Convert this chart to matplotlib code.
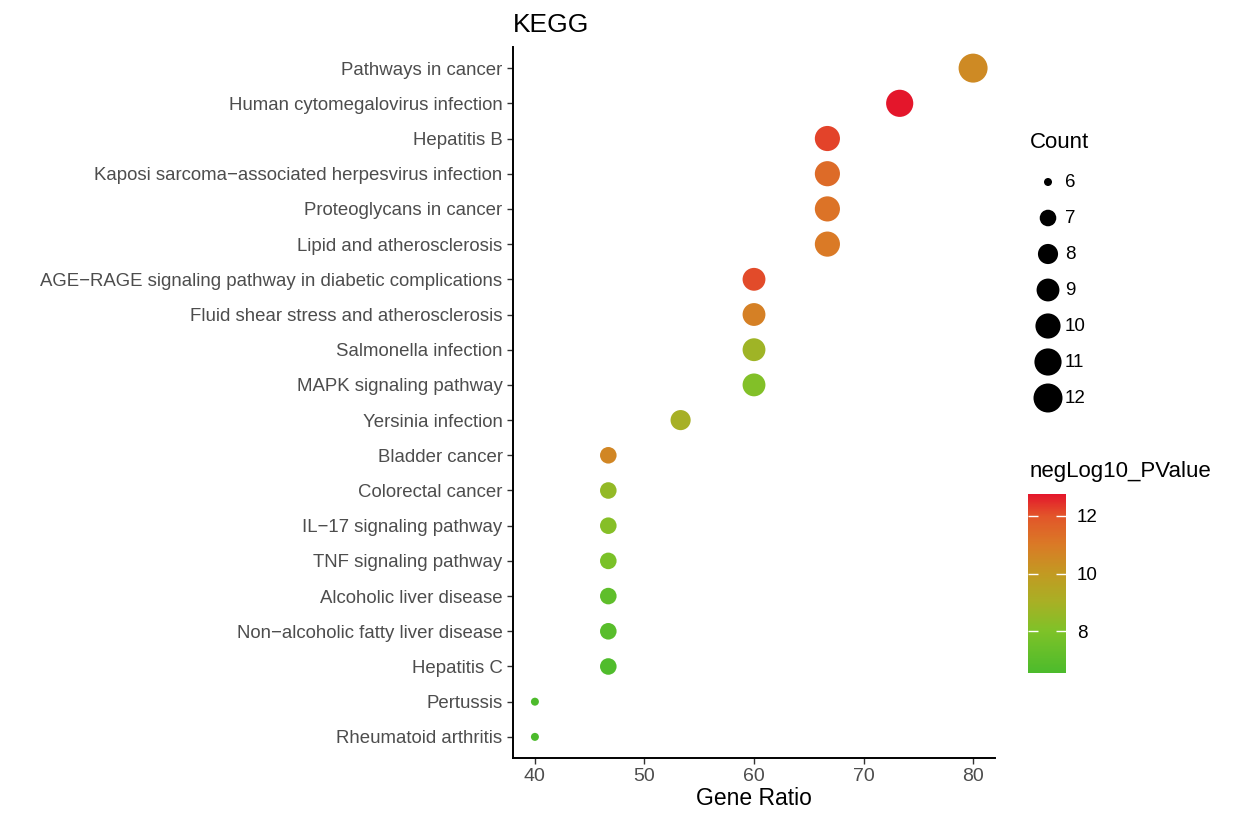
import numpy as np
import matplotlib
matplotlib.use("Agg")
import matplotlib.pyplot as plt
from matplotlib.colors import LinearSegmentedColormap, Normalize
from matplotlib.cm import ScalarMappable

plt.rcParams['font.family'] = ['Liberation Sans', 'DejaVu Sans']

# ---------------- data ----------------
pathways = [
    "Pathways in cancer",
    "Human cytomegalovirus infection",
    "Hepatitis B",
    "Kaposi sarcoma\u2212associated herpesvirus infection",
    "Proteoglycans in cancer",
    "Lipid and atherosclerosis",
    "AGE\u2212RAGE signaling pathway in diabetic complications",
    "Fluid shear stress and atherosclerosis",
    "Salmonella infection",
    "MAPK signaling pathway",
    "Yersinia infection",
    "Bladder cancer",
    "Colorectal cancer",
    "IL\u221217 signaling pathway",
    "TNF signaling pathway",
    "Alcoholic liver disease",
    "Non\u2212alcoholic fatty liver disease",
    "Hepatitis C",
    "Pertussis",
    "Rheumatoid arthritis",
]
gene_ratio = [80.0, 73.3, 66.7, 66.7, 66.7, 66.7, 60.0, 60.0, 60.0, 60.0,
              53.3, 46.7, 46.7, 46.7, 46.7, 46.7, 46.7, 46.7, 40.0, 40.0]
count = [12, 11, 10, 10, 10, 10, 9, 9, 9, 9, 8, 7, 7, 7, 7, 7, 7, 7, 6, 6]
neglog10_p = [10.5, 12.75, 12.2, 11.4, 11.2, 11.0, 12.1, 10.8, 8.8, 8.1,
              9.0, 10.6, 8.5, 8.2, 7.9, 7.1, 6.9, 6.7, 6.6, 6.56]
legend_counts = [6, 7, 8, 9, 10, 11, 12]
x_ticks = [40, 50, 60, 70, 80]
cbar_ticks = [8, 10, 12]

# ---------------- styling helpers ----------------
W, H, DPI = 1238, 824, 100
PX2PT = 72.0 / DPI

cmin, cmax = min(count), max(count)
def diam_px(c):
    c = np.asarray(c, dtype=float)
    d = 1 + 5 * np.sqrt((c - cmin) / (cmax - cmin))
    return 4.2 * d + 3.8

def s_of(c):
    return (diam_px(c) * PX2PT) ** 2

vmin, vmax = min(neglog10_p), max(neglog10_p)
def pos(v):
    return (v - vmin) / (vmax - vmin)
anchors = [(0.0, '#4CBB2C'), (pos(8), '#7EC228'), (pos(9), '#A8B025'),
           (pos(10), '#C29A22'), (pos(11), '#DA7A26'), (pos(12), '#E2552A'),
           (1.0, '#E4162B')]
cmap = LinearSegmentedColormap.from_list('kegg', anchors)
norm = Normalize(vmin=vmin, vmax=vmax)

# ---------------- figure ----------------
fig = plt.figure(figsize=(W / DPI, H / DPI), dpi=DPI)
ax = fig.add_axes([513 / W, 1 - 758 / H, (995 - 513) / W, (758 - 47) / H])

n = len(pathways)
ypos = np.arange(n)[::-1]
ax.scatter(gene_ratio, ypos, s=s_of(count), c=neglog10_p, cmap=cmap, norm=norm,
           linewidths=0, zorder=3)

ax.set_xlim(38, 82)
ax.set_ylim(-0.6, n - 1 + 0.6)
ax.set_xticks(x_ticks)
ax.set_yticks(ypos)
ax.set_yticklabels(pathways)
for s in ['top', 'right']:
    ax.spines[s].set_visible(False)
for s in ['left', 'bottom']:
    ax.spines[s].set_linewidth(1.4)
    ax.spines[s].set_color('black')
ax.tick_params(axis='both', length=4.5, width=1.0, color='#333333',
               labelcolor='#4D4D4D', labelsize=13.4, pad=3)
ax.tick_params(axis='x', labelsize=14)
ax.set_xlabel('Gene Ratio', fontsize=16.5, color='black', labelpad=1)
ax.set_title('KEGG', loc='left', fontsize=19, pad=11, color='black')

# ---------------- size legend ----------------
fig.text(1030 / W, 1 - 142 / H, 'Count', fontsize=16, va='center', ha='left')
lax = fig.add_axes([1020 / W, 1 - 415 / H, 80 / W, (415 - 164) / H])
lax.set_xlim(0, 80)
lax.set_ylim(415, 164)
lax.axis('off')
ly = [182 + 36 * i for i in range(len(legend_counts))]
lax.scatter([28] * len(legend_counts), ly, s=s_of(legend_counts), c='black',
            linewidths=0)
for yy, c in zip(ly, legend_counts):
    lax.text(45, yy, str(c), fontsize=13.5, va='center', ha='left')

# ---------------- colorbar ----------------
fig.text(1030 / W, 1 - 472 / H, 'negLog10_PValue', fontsize=16, va='center', ha='left')
cax = fig.add_axes([1028 / W, 1 - 673 / H, 38 / W, (673 - 494) / H])
cb = fig.colorbar(ScalarMappable(norm=norm, cmap=cmap), cax=cax, ticks=cbar_ticks)
cb.outline.set_visible(False)
cax.tick_params(axis='y', direction='in', length=7, width=1.0, color='white',
                left=True, right=True, labelsize=13.5, pad=8)
for lab in cax.get_yticklabels():
    lab.set_color('black')

fig.savefig('out.png', dpi=DPI)
